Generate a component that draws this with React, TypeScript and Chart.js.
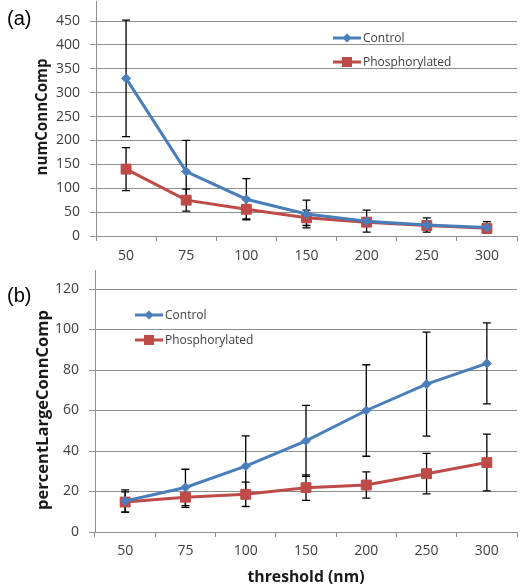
import React, { useEffect, useRef } from 'react';
import { Chart, registerables } from 'chart.js';

Chart.register(...registerables);

const thresholds = ['50', '75', '100', '150', '200', '250', '300'];

// Panel (a): numConnComp
const numControl = [330, 135, 77, 46, 31, 23, 18];
const numControlErr = [122, 65, 43, 29, 23, 15, 12];
const numPhos = [140, 75, 56, 38, 29, 22, 16];
const numPhosErr = [45, 23, 20, 16, 8, 7, 6];
const numTicks = { min: 0, max: 450, step: 50 };

// Panel (b): percentLargeConnComp
const pctControl = [15.3, 22, 32.5, 45, 60, 73, 83.3];
const pctControlErr = [5.5, 9, 15, 17.5, 22.6, 25.7, 20];
const pctPhos = [14.8, 17.2, 18.6, 21.9, 23.2, 28.8, 34.3];
const pctPhosErr = [5, 5, 6, 6.3, 6.5, 10, 14];
const pctTicks = { min: 0, max: 120, step: 20 };

const seriesNames = ['Control', 'Phosphorylated'];
const BLUE = '#4A7EBB';
const RED = '#BE4B48';
const GRID = '#8e8e8e';
const TEXT = '#404040';

type PanelOpts = {
  width: number;
  height: number;
  control: number[];
  controlErr: number[];
  phos: number[];
  phosErr: number[];
  ticks: { min: number; max: number; step: number };
  padTop: number;
  yWidth: number;
  xHeight: number;
  padRight: number;
  xTickPad: number;
  panelLabel: string;
  panelLabelY: number;
  yTitle: string;
  yTitleX: number;
  yTitleY: number;
  yTitleLen: number;
  xTitle?: string;
  xTitleY?: number;
  xTitleLen?: number;
  legendX: number;
  legendY: number[];
};

function fitFont(ctx: CanvasRenderingContext2D, text: string, target: number, weight: string, family: string) {
  ctx.font = `${weight} 20px ${family}`;
  const w = ctx.measureText(text).width;
  const size = (20 * target) / w;
  ctx.font = `${weight} ${size.toFixed(2)}px ${family}`;
}

function drawMarker(ctx: CanvasRenderingContext2D, kind: number, x: number, y: number, color: string) {
  ctx.save();
  ctx.fillStyle = color;
  ctx.beginPath();
  if (kind === 0) {
    const r = 4.5;
    ctx.moveTo(x - r, y);
    ctx.lineTo(x, y - r);
    ctx.lineTo(x + r, y);
    ctx.lineTo(x, y + r);
    ctx.closePath();
  } else {
    const s = 5;
    ctx.rect(x - s, y - s, 2 * s, 2 * s);
  }
  ctx.fill();
  ctx.restore();
}

function makeChart(canvas: HTMLCanvasElement, o: PanelOpts) {
  const errs = [o.controlErr, o.phosErr];
  const errorBars = {
    id: 'errorBars',
    beforeDatasetsDraw(chart: any) {
      const ctx = chart.ctx as CanvasRenderingContext2D;
      const y = chart.scales.y;
      ctx.save();
      ctx.strokeStyle = '#000';
      ctx.lineWidth = 1.3;
      chart.data.datasets.forEach((ds: any, i: number) => {
        const meta = chart.getDatasetMeta(i);
        meta.data.forEach((pt: any, j: number) => {
          const v = ds.data[j] as number;
          const e = errs[i][j];
          const yt = y.getPixelForValue(v + e);
          const yb = y.getPixelForValue(Math.max(v - e, 0));
          const x = pt.x;
          ctx.beginPath();
          ctx.moveTo(x, yt);
          ctx.lineTo(x, yb);
          ctx.moveTo(x - 4, yt);
          ctx.lineTo(x + 4, yt);
          ctx.moveTo(x - 4, yb);
          ctx.lineTo(x + 4, yb);
          ctx.stroke();
        });
      });
      ctx.restore();
    },
  };
  const decorations = {
    id: 'decorations',
    afterDraw(chart: any) {
      const ctx = chart.ctx as CanvasRenderingContext2D;
      const area = chart.chartArea;
      ctx.save();
      // axis line extension above top gridline
      ctx.strokeStyle = GRID;
      ctx.lineWidth = 1;
      ctx.beginPath();
      ctx.moveTo(Math.round(area.left) + 0.5, area.top);
      ctx.lineTo(Math.round(area.left) + 0.5, Math.max(area.top - 20, 0));
      ctx.stroke();
      // panel label
      ctx.fillStyle = '#000';
      ctx.font = '20px "Liberation Sans", Arial, sans-serif';
      ctx.textAlign = 'left';
      ctx.textBaseline = 'middle';
      ctx.fillText(o.panelLabel, 7, o.panelLabelY);
      // y title
      ctx.save();
      ctx.translate(o.yTitleX, o.yTitleY);
      ctx.rotate(-Math.PI / 2);
      fitFont(ctx, o.yTitle, o.yTitleLen, 'bold', '"Open Sans", sans-serif');
      ctx.fillStyle = '#1a1a1a';
      ctx.textAlign = 'center';
      ctx.textBaseline = 'middle';
      ctx.fillText(o.yTitle, 0, 0);
      ctx.restore();
      // x title
      if (o.xTitle) {
        fitFont(ctx, o.xTitle, o.xTitleLen as number, 'bold', '"Open Sans", sans-serif');
        ctx.fillStyle = '#1a1a1a';
        ctx.textAlign = 'center';
        ctx.textBaseline = 'middle';
        ctx.fillText(o.xTitle, (area.left + area.right) / 2, o.xTitleY as number);
      }
      // legend
      const colors = [BLUE, RED];
      seriesNames.forEach((name, i) => {
        const ly = o.legendY[i];
        ctx.strokeStyle = colors[i];
        ctx.lineWidth = 3;
        ctx.beginPath();
        ctx.moveTo(o.legendX, ly);
        ctx.lineTo(o.legendX + 28, ly);
        ctx.stroke();
        drawMarker(ctx, i, o.legendX + 14, ly, colors[i]);
        ctx.fillStyle = TEXT;
        ctx.font = '12px "Open Sans", sans-serif';
        ctx.textAlign = 'left';
        ctx.textBaseline = 'middle';
        ctx.fillText(name, o.legendX + 30, ly + 0.5);
      });
      ctx.restore();
    },
  };

  return new Chart(canvas, {
    type: 'line',
    data: {
      labels: thresholds,
      datasets: [
        {
          label: seriesNames[0],
          data: o.control,
          borderColor: BLUE,
          backgroundColor: BLUE,
          borderWidth: 3,
          pointStyle: 'rectRot',
          pointRadius: 4.5,
          pointBorderWidth: 1,
          tension: 0,
        },
        {
          label: seriesNames[1],
          data: o.phos,
          borderColor: RED,
          backgroundColor: RED,
          borderWidth: 3,
          pointStyle: 'rect',
          pointRadius: 7,
          pointBorderWidth: 1,
          tension: 0,
        },
      ],
    },
    options: {
      responsive: false,
      maintainAspectRatio: false,
      animation: false,
      devicePixelRatio: 1,
      layout: { padding: { top: o.padTop, right: o.padRight, left: 0, bottom: 0 } },
      plugins: {
        legend: { display: false },
        tooltip: { enabled: false },
        title: { display: false },
      },
      scales: {
        x: {
          type: 'category',
          offset: true,
          grid: {
            offset: true,
            drawOnChartArea: false,
            drawTicks: true,
            tickLength: 5,
            color: GRID,
          },
          border: { display: true, color: GRID },
          ticks: {
            color: TEXT,
            font: { family: '"Open Sans", sans-serif', size: 14 },
            padding: o.xTickPad,
            maxRotation: 0,
          },
          afterFit(scale: any) {
            scale.height = o.xHeight;
          },
        },
        y: {
          min: o.ticks.min,
          max: o.ticks.max,
          grid: { color: GRID, tickLength: 6, drawTicks: true },
          border: { display: true, color: GRID },
          ticks: {
            stepSize: o.ticks.step,
            color: TEXT,
            font: { family: '"Open Sans", sans-serif', size: 14 },
            padding: 10,
          },
          afterFit(scale: any) {
            scale.width = o.yWidth;
          },
        },
      },
    },
    plugins: [errorBars, decorations],
  });
}

function Panel({ opts, top }: { opts: PanelOpts; top: number }) {
  const ref = useRef<HTMLCanvasElement>(null);
  useEffect(() => {
    if (!ref.current) return;
    const chart = makeChart(ref.current, opts);
    return () => chart.destroy();
  }, []);
  return (
    <canvas
      ref={ref}
      width={opts.width}
      height={opts.height}
      style={{ position: 'absolute', left: 0, top, width: opts.width, height: opts.height }}
    />
  );
}

const panelA: PanelOpts = {
  width: 525,
  height: 270,
  control: numControl,
  controlErr: numControlErr,
  phos: numPhos,
  phosErr: numPhosErr,
  ticks: numTicks,
  padTop: 21,
  yWidth: 96,
  xHeight: 34,
  padRight: 2,
  xTickPad: 7,
  panelLabel: '(a)',
  panelLabelY: 19,
  yTitle: 'numConnComp',
  yTitleX: 43,
  yTitleY: 117,
  yTitleLen: 117,
  legendX: 333,
  legendY: [38, 62],
};

const panelB: PanelOpts = {
  width: 525,
  height: 318,
  control: pctControl,
  controlErr: pctControlErr,
  phos: pctPhos,
  phosErr: pctPhosErr,
  ticks: pctTicks,
  padTop: 19,
  yWidth: 95,
  xHeight: 56,
  padRight: 1,
  xTickPad: 6,
  panelLabel: '(b)',
  panelLabelY: 26,
  yTitle: 'percentLargeConnComp',
  yTitleX: 43,
  yTitleY: 140,
  yTitleLen: 200,
  xTitle: 'threshold (nm)',
  xTitleY: 308,
  xTitleLen: 117,
  legendX: 135,
  legendY: [45, 70],
};

export default function App() {
  return (
    <div style={{ position: 'absolute', left: 0, top: 0, width: 525, height: 588, background: '#fff' }}>
      <Panel opts={panelA} top={0} />
      <Panel opts={panelB} top={270} />
    </div>
  );
}
